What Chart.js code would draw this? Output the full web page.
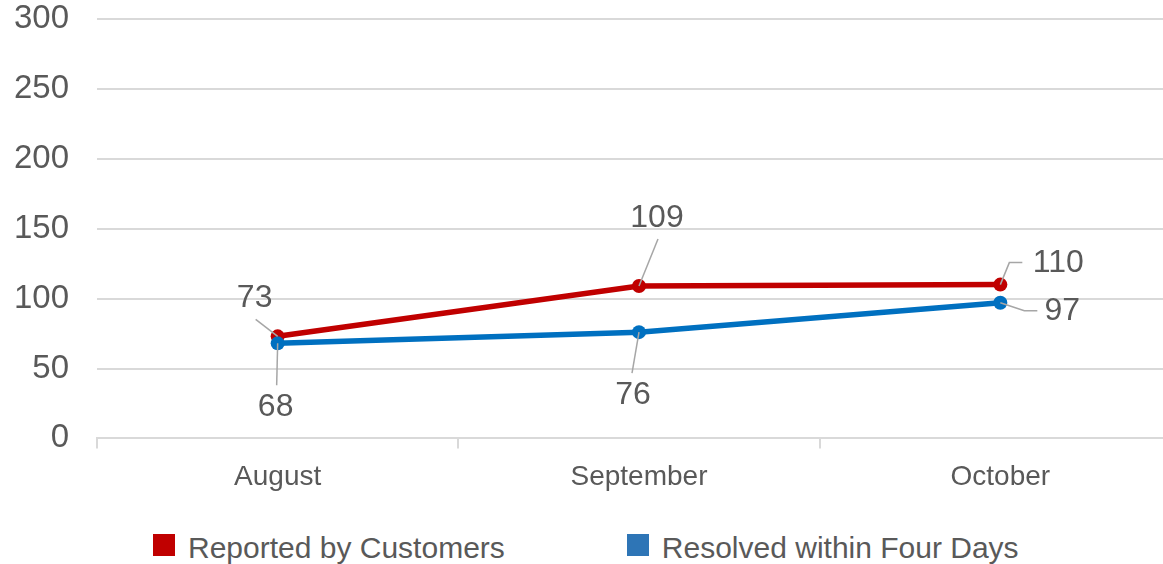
<!DOCTYPE html>
<html>
<head>
<meta charset="utf-8">
<script src="https://cdn.jsdelivr.net/npm/chart.js@4"></script>
<style>
  body { margin: 0; background: #fff; overflow: hidden; width: 1163px; height: 564px; position: relative; }
  #wrap { position: absolute; left: 0; top: 0; width: 1188px; height: 515px; }
  #legend { position: absolute; left: 153px; top: 531px; display: flex; font-family: "Liberation Sans", Arial, sans-serif; font-size: 30px; line-height: 34px; color: #595959; white-space: nowrap; }
  .item { display: flex; align-items: flex-start; margin-right: 122px; }
  .swatch { width: 22px; height: 22px; margin-top: 3px; margin-right: 13px; }
</style>
</head>
<body>
<div id="wrap"><canvas id="chart" width="1188" height="515"></canvas></div>
<div id="legend"></div>
<script>
const months = ["August", "September", "October"];
const reported = [73, 109, 110];
const resolved = [68, 76, 97];
const yTicks = [0, 50, 100, 150, 200, 250, 300];

const red = "#C00000";
const blue = "#0070C0";
const textGrey = "#595959";

// where each value label sits relative to its point, with its leader line
const labelSpots = [
    [
        { dx: -23, dy: -38, path: [[0, 0], [-22, -17]] },
        { dx: 18, dy: -68, path: [[0, 0], [19, -47]] },
        { dx: 58, dy: -21, path: [[0, 0], [9, -22], [22, -22]] }
    ],
    [
        { dx: -2, dy: 64, path: [[0, 0], [-1, 42]] },
        { dx: -6, dy: 63, path: [[0, 0], [-7, 41]] },
        { dx: 62, dy: 8, path: [[0, 0], [24, 8], [37, 8]] }
    ]
];

// draws the value labels with grey leader lines
const valueLabels = {
    id: "valueLabels",
    afterDatasetsDraw(chart) {
        const ctx = chart.ctx;
        ctx.save();
        chart.data.datasets.forEach((ds, i) => {
            const meta = chart.getDatasetMeta(i);
            meta.data.forEach((pt, j) => {
                const spot = labelSpots[i][j];
                ctx.strokeStyle = "#A6A6A6";
                ctx.lineWidth = 1.5;
                ctx.beginPath();
                spot.path.forEach(([px, py], k) => {
                    if (k === 0) ctx.moveTo(pt.x + px, pt.y + py);
                    else ctx.lineTo(pt.x + px, pt.y + py);
                });
                ctx.stroke();
                ctx.fillStyle = textGrey;
                ctx.font = "32px 'Liberation Sans', Arial, sans-serif";
                ctx.textAlign = "center";
                ctx.textBaseline = "middle";
                ctx.fillText(String(ds.data[j]), pt.x + spot.dx, pt.y + spot.dy);
            });
        });
        ctx.restore();
    }
};

const ctx = document.getElementById("chart").getContext("2d");

const chart = new Chart(ctx, {
    type: "line",
    data: {
        labels: months,
        datasets: [
            {
                label: "Reported by Customers",
                data: reported,
                borderColor: red,
                backgroundColor: red,
                borderWidth: 5.5,
                pointRadius: 7,
                pointBorderWidth: 0,
                order: 1
            },
            {
                label: "Resolved within Four Days",
                data: resolved,
                borderColor: blue,
                backgroundColor: blue,
                borderWidth: 5.5,
                pointRadius: 7,
                pointBorderWidth: 0,
                order: 0
            }
        ]
    },
    options: {
        responsive: false,
        animation: false,
        layout: { padding: { top: 0, right: 0, bottom: 9, left: 0 } },
        plugins: {
            legend: { display: false },
            tooltip: { enabled: false }
        },
        scales: {
            x: {
                offset: true,
                grid: { offset: true, drawOnChartArea: false, tickLength: 10, color: "#D9D9D9", lineWidth: 2 },
                border: { color: "#D9D9D9", width: 2 },
                ticks: {
                    padding: 12,
                    color: textGrey,
                    font: { family: "'Liberation Sans', Arial, sans-serif", size: 28 }
                }
            },
            y: {
                min: 0,
                max: 300,
                afterBuildTicks(scale) {
                    scale.ticks = yTicks.map(v => ({ value: v }));
                },
                afterFit(scale) {
                    // tick padding only pushes labels left, not the plot down
                    scale.width = 97;
                    scale.paddingTop = 19;
                    scale.paddingBottom = 0;
                },
                grid: { drawTicks: false, color: "#D9D9D9", lineWidth: 2 },
                border: { display: false },
                ticks: {
                    padding: 28,
                    color: textGrey,
                    font: { family: "'Liberation Sans', Arial, sans-serif", size: 33 }
                }
            }
        }
    },
    plugins: [valueLabels]
});

// legend built from the chart's datasets
const legend = document.getElementById("legend");
chart.data.datasets.forEach(ds => {
    const item = document.createElement("div");
    item.className = "item";
    const swatch = document.createElement("span");
    swatch.className = "swatch";
    swatch.style.background = ds.borderColor === blue ? "#2E75B6" : ds.borderColor;
    const text = document.createElement("span");
    text.textContent = ds.label;
    item.appendChild(swatch);
    item.appendChild(text);
    legend.appendChild(item);
});
</script>
</body>
</html>
